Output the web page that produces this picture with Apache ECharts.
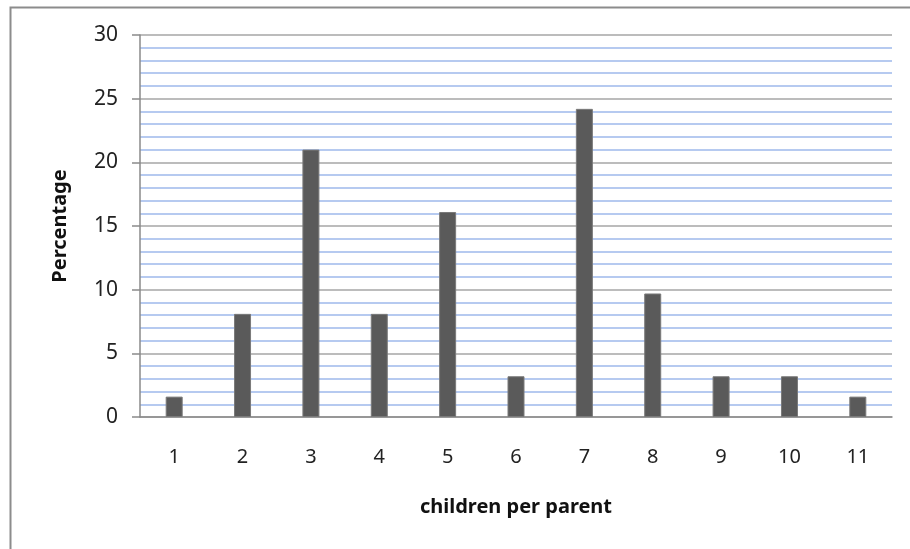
<!DOCTYPE html>
<html><head><meta charset="utf-8">
<script src="https://cdn.jsdelivr.net/npm/echarts@6/dist/echarts.min.js"></script>
<style>html,body{margin:0;padding:0;background:#fff}#c{width:910px;height:549px}</style>
</head><body><div id="c"></div>
<script>
const categories = ['1','2','3','4','5','6','7','8','9','10','11'];
const percentages = [1.6, 8.1, 21.0, 8.1, 16.1, 3.2, 24.2, 9.7, 3.2, 3.2, 1.6];
const yTitle = 'Percentage';
const xTitle = 'children per parent';

const chart = echarts.init(document.getElementById('c'));
const font = 'Noto Sans, Liberation Sans, sans-serif';
chart.setOption({
  animation: false,
  graphic: [{type:'rect', shape:{x:10.5,y:7.5,width:1000,height:1000}, style:{fill:'none',stroke:'#8c8c8c',lineWidth:2}, z:-1}],
  grid: {left:140, right:18, top:35, bottom:132},
  xAxis: {
    type:'category', data:categories,
    axisTick:{show:false},
    axisLine:{lineStyle:{color:'#8a8a8a',width:1.5}},
    axisLabel:{color:'#222',fontSize:20,fontFamily:font,margin:30},
    name:xTitle, nameLocation:'middle', nameGap:80,
    nameTextStyle:{color:'#111',fontSize:20,fontWeight:'bold',fontFamily:font}
  },
  yAxis: {
    type:'value', min:0, max:30, interval:5,
    axisLine:{show:true,lineStyle:{color:'#8a8a8a',width:1.5}},
    axisTick:{show:true,length:8,lineStyle:{color:'#8a8a8a',width:1.5}},
    axisLabel:{color:'#222',fontSize:21,fontFamily:font,margin:22},
    splitLine:{lineStyle:{color:'#a6a6a6',width:1.5}},
    minorTick:{show:false,splitNumber:5},
    minorSplitLine:{show:true,lineStyle:{color:'#b6caf0',width:2}},
    name:yTitle, nameLocation:'middle', nameGap:70,
    nameTextStyle:{color:'#111',fontSize:20,fontWeight:'bold',fontFamily:font}
  },
  series:[{
    type:'bar', data:percentages, barWidth:17,
    itemStyle:{color:'#5a5a5a',borderColor:'#7a7a7a',borderWidth:1}
  }]
});
</script></body></html>
